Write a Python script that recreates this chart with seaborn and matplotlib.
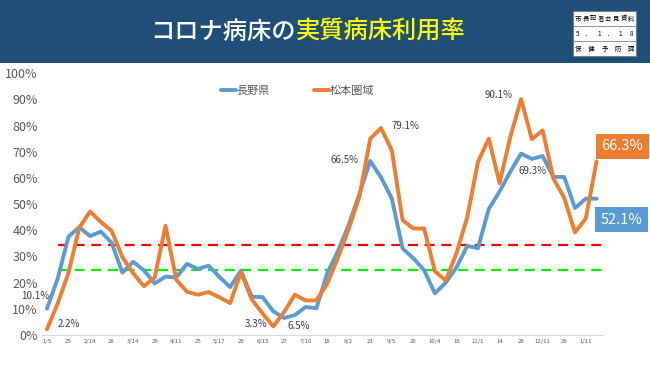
import numpy as np
import pandas as pd
import matplotlib
matplotlib.use("Agg")
import matplotlib.pyplot as plt
from matplotlib.patches import Rectangle
from matplotlib.lines import Line2D
import seaborn as sns

# ---------------- data ----------------
tick_labels = ["1/5", "25", "2/14", "28", "3/14", "29", "4/11", "25", "5/17", "29",
               "6/15", "27", "7/10", "18", "8/2", "23", "9/5", "20", "10/4", "16",
               "11/1", "14", "28", "12/11", "26", "1/11"]

nagano = [10.1, 21.6, 37.6, 41.2, 37.8, 39.5, 35.3, 23.8, 28.0, 24.7,
          19.7, 22.3, 22.0, 27.2, 25.2, 26.5, 22.2, 18.3, 24.6, 14.6,
          14.5, 9.1, 6.5, 7.6, 10.7, 10.2, 23.5, 32.0, 42.0, 54.0,
          66.5, 60.2, 52.2, 33.1, 29.3, 24.8, 15.9, 20.0, 25.8, 34.0,
          33.2, 48.2, 54.8, 62.4, 69.3, 67.3, 68.4, 60.4, 60.4, 48.5,
          52.1, 52.1]

matsumoto = [2.2, 12.1, 23.8, 41.0, 47.2, 43.2, 39.8, 29.8, 23.6, 18.6,
             22.0, 41.8, 21.1, 16.5, 15.4, 16.4, 14.4, 12.2, 24.0, 13.6,
             8.3, 3.3, 8.7, 15.4, 13.2, 13.2, 19.5, 29.5, 40.5, 53.0,
             75.0, 79.1, 70.6, 43.9, 40.7, 40.7, 24.4, 20.8, 31.2, 45.0,
             66.2, 75.0, 58.0, 75.7, 90.1, 74.8, 78.2, 59.8, 52.4, 39.2,
             44.5, 66.3]

series_names = ["長野県", "松本圏域"]
red_level = 34.4
green_level = 25.0

# annotations: (series, index, text, dx px, dy px)
notes = [("長野県", 0, "10.1%", -12, 13),
         ("松本圏域", 0, "2.2%", 22, 5),
         ("松本圏域", 21, "3.3%", -17, 2),
         ("長野県", 22, "6.5%", 15, -8),
         ("長野県", 30, "66.5%", -26, 1),
         ("松本圏域", 31, "79.1%", 24, 2),
         ("松本圏域", 44, "90.1%", -22, 4),
         ("長野県", 44, "69.3%", 11, -17)]

# ---------------- style ----------------
sns.set_theme(style="white")
plt.rcParams["font.family"] = ["Noto Sans CJK JP", "DejaVu Sans"]

BLUE = "#5B9BD5"
ORANGE = "#ED7D31"
GRAY = "#595959"
NAVY = "#1F4E79"

W, H = 650, 365
fig = plt.figure(figsize=(6.5, 3.65), dpi=100)
fig.patch.set_facecolor("white")

# header band
fig.patches.append(Rectangle((0, 1 - 63 / H), 1, 63 / H, transform=fig.transFigure,
                             facecolor=NAVY, edgecolor="none", zorder=0))

# title
split_x = 296 / W
ty = 1 - 32 / H
fig.text(split_x, ty, "コロナ病床の", color="white", fontsize=17.5,
         ha="right", va="center", fontweight="medium")
fig.text(split_x, ty, "実質病床利用率", color="#FFFF00", fontsize=17.5,
         ha="left", va="center", fontweight="medium")

# top-right box
bx0, bx1 = 573, 636
by0, by1 = 11, 56
rows = [by0, by0 + 15, by0 + 30, by1]
fig.patches.append(Rectangle((bx0 / W, 1 - by1 / H), (bx1 - bx0) / W, (by1 - by0) / H,
                             transform=fig.transFigure, facecolor="white",
                             edgecolor="#7F7F7F", linewidth=0.8, zorder=1))
for r in rows[1:-1]:
    fig.lines.append(Line2D([bx0 / W, bx1 / W], [1 - r / H, 1 - r / H],
                            transform=fig.transFigure, color="#7F7F7F", lw=0.6, zorder=2))
row_texts = [list("市長記者会見資料"), list("5．1．18"), list("保健予防課")]
for k, chars in enumerate(row_texts):
    yc = 1 - (rows[k] + rows[k + 1]) / 2 / H
    xs = np.linspace(bx0 + 5, bx1 - 5, len(chars))
    for xc, ch in zip(xs, chars):
        fig.text(xc / W, yc, ch, fontsize=4.6, color="black", ha="center", va="center",
                 zorder=3)

# axes
ax_left, ax_right = 42, 603
ax_bottom, ax_top = 335, 73.3
ax = fig.add_axes([ax_left / W, 1 - ax_bottom / H, (ax_right - ax_left) / W,
                   (ax_bottom - ax_top) / H])
ax.set_facecolor("none")

n = len(nagano)
df = pd.DataFrame({
    "idx": list(range(n)) * 2,
    "val": nagano + matsumoto,
    "series": [series_names[0]] * n + [series_names[1]] * n,
})

# threshold lines
ax.plot([1, 52], [red_level, red_level], color="#FF0000", lw=1.6,
        dashes=(4.5, 3), clip_on=False, zorder=2)
ax.plot([1, 52], [green_level, green_level], color="#00EE00", lw=1.6,
        dashes=(4.5, 3), clip_on=False, zorder=2)

sns.lineplot(data=df, x="idx", y="val", hue="series", hue_order=series_names,
             palette=[BLUE, ORANGE], linewidth=2.8, ax=ax, legend=False,
             zorder=3)
for line in ax.get_lines():
    line.set_solid_joinstyle("round")

ax.set_xlim(-0.46, 51.6)
ax.set_ylim(0, 100)
ax.set_yticks(np.arange(0, 101, 10))
ax.set_yticklabels([f"{v}%" for v in range(0, 101, 10)], fontsize=9, color=GRAY)
ax.set_xticks(np.arange(0, 2 * len(tick_labels), 2))
ax.set_xticklabels(tick_labels, fontsize=4.3, color=GRAY)
ax.tick_params(axis="y", length=0, pad=3)
ax.tick_params(axis="x", length=0, pad=3)
ax.set_xlabel("")
ax.set_ylabel("")
for s in ["left", "right", "top"]:
    ax.spines[s].set_visible(False)
ax.spines["bottom"].set_color("#D9D9D9")
ax.spines["bottom"].set_linewidth(0.8)

# legend
handles = [Line2D([], [], color=BLUE, lw=2.8), Line2D([], [], color=ORANGE, lw=2.8)]
ax.legend(handles, series_names, loc="center", bbox_to_anchor=(0.456, 0.932),
          ncol=2, frameon=False, fontsize=8, handlelength=1.3, handletextpad=0.1,
          columnspacing=4.0, labelcolor=GRAY)

# annotations
data_map = {series_names[0]: nagano, series_names[1]: matsumoto}
for s, i, txt, dx, dy in notes:
    ax.annotate(txt, xy=(i, data_map[s][i]), xytext=(dx, dy), textcoords="offset pixels",
                ha="center", va="center", fontsize=7, color="#404040", zorder=5)

# end value boxes
ax.annotate(f"{matsumoto[-1]}%", xy=(n - 1, matsumoto[-1]), xytext=(26, 15),
            textcoords="offset pixels", ha="center", va="center", fontsize=10.5,
            color="white", annotation_clip=False,
            bbox=dict(boxstyle="square,pad=0.4", fc=ORANGE, ec="none"))
ax.annotate(f"{nagano[-1]}%", xy=(n - 1, nagano[-1]), xytext=(25, -21),
            textcoords="offset pixels", ha="center", va="center", fontsize=10.5,
            color="white", annotation_clip=False,
            bbox=dict(boxstyle="square,pad=0.4", fc=BLUE, ec="none"))

fig.savefig("out.png", dpi=100, facecolor="white")
